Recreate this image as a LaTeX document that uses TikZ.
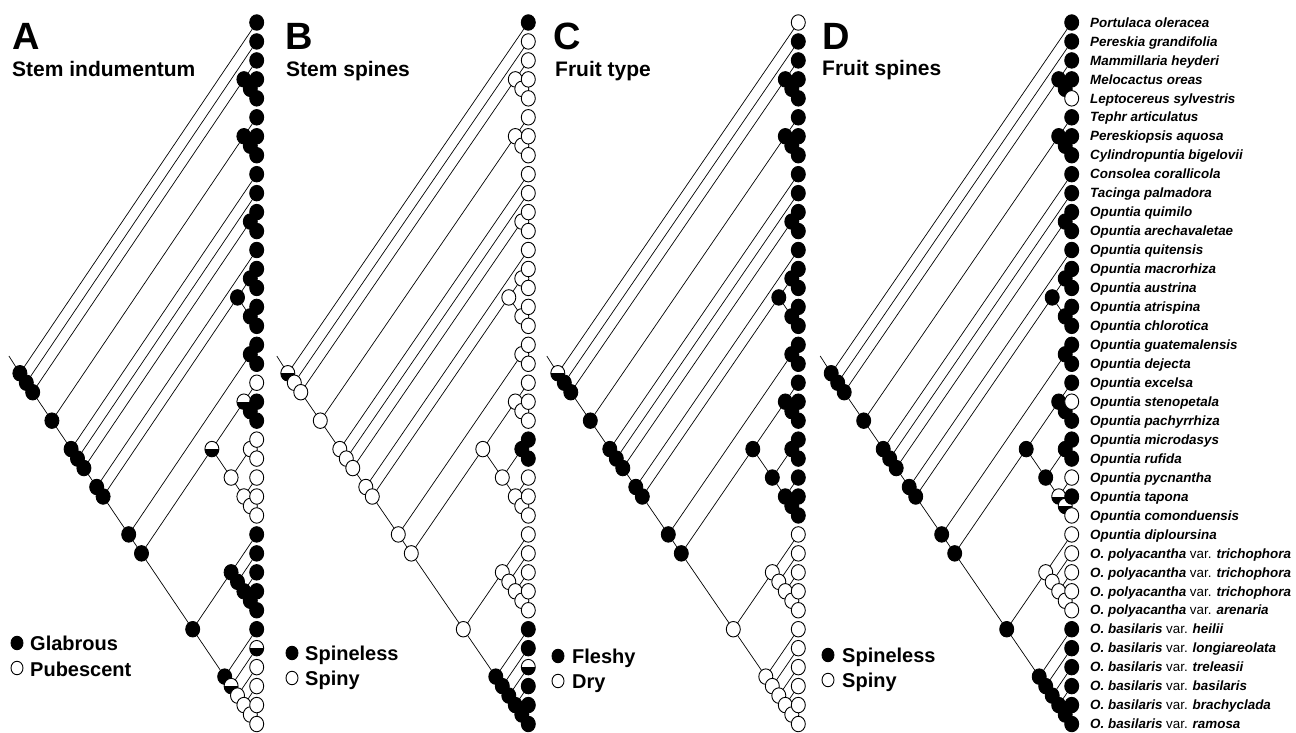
\documentclass[tikz,border=0pt]{standalone}
\usepackage{fontspec}
\setmainfont{Liberation Sans}
\usetikzlibrary{shapes.geometric}
\pgfdeclarelayer{bg}
\pgfsetlayers{bg,main}
\tikzset{
  cnode/.style={ellipse, draw=black, line width=0.9pt, minimum width=14pt, minimum height=15.5pt, inner sep=0pt},
  stf/.style={cnode, fill=black},
  sto/.style={cnode, fill=white},
  sth/.style={cnode, fill=white, path picture={\fill[black] (path picture bounding box.west) rectangle (path picture bounding box.south east);}},
  legf/.style={stf, minimum width=12pt, minimum height=13.5pt},
  lego/.style={sto, minimum width=12pt, minimum height=13.5pt},
  branch/.style={line width=0.7pt, black},
  ttl/.style={font=\fontsize{38}{40}\selectfont\bfseries, anchor=base west, inner sep=0pt},
  sub/.style={font=\fontsize{21}{24}\selectfont\bfseries, anchor=base west, inner sep=0pt},
  legt/.style={font=\fontsize{20}{22}\selectfont\bfseries, anchor=base west, inner sep=0pt},
  lab/.style={font=\fontsize{13.4}{15}\selectfont\bfseries\itshape, anchor=base west, inner sep=0pt},
}
\newcommand\splitlist{1/38/1, 2/38/2, 3/38/5, 3/5/3, 4/5/4, 6/38/8, 6/8/6, 7/8/7, 9/38/9, 10/38/10, 11/38/12, 11/12/11, 13/38/13, 14/38/17, 14/17/15, 14/15/14, 16/17/16, 18/38/19, 18/19/18, 20/38/27, 20/27/22, 20/22/20, 21/22/21, 23/27/24, 23/24/23, 25/27/25, 26/27/26, 28/38/32, 28/32/28, 29/32/29, 30/32/30, 31/32/31, 33/38/33, 34/38/34, 35/38/35, 36/38/36, 37/38/37}
\newcommand\drawpanel[5]{%
  \foreach \a/\b/\st in {#4} {
    \node[st\st] (#1\a-\b) at ({#2-#3*(\b-\a)/2},{22.5+((\a+\b)/2-1)*18.96}) {};
  }
  \foreach \i/\st in {#5} {
    \node[st\st] (#1\i-\i) at (#2,{22.5+(\i-1)*18.96}) {};
  }
  \coordinate (#1stem) at ({#2-#3*18.5-11},356);
  \begin{pgfonlayer}{bg}
    \foreach \a/\b/\m in \splitlist {
      \pgfmathtruncatemacro\n{\m+1}
      \draw[branch] (#1\a-\b.center) -- (#1\a-\m.center);
      \draw[branch] (#1\a-\b.center) -- (#1\n-\b.center);
    }
    \draw[branch] (#1stem) -- (#11-38.center);
  \end{pgfonlayer}
}
\begin{document}
\begin{tikzpicture}[x=1pt,y=-1pt]
\useasboundingbox (0,0) rectangle (1296,733);

% ---------- Panel A : Stem indumentum ----------
\drawpanel{A}{256.7}{12.8}%
{1/38/f, 2/38/f, 3/38/f, 3/5/f, 4/5/f, 6/38/f, 6/8/f, 7/8/f, 9/38/f, 10/38/f, 11/38/f, 11/12/f, 13/38/f, 14/38/f, 14/17/f, 14/15/f, 16/17/f, 18/38/f, 18/19/f, 20/38/f, 20/27/h, 20/22/h, 21/22/f, 23/27/o, 23/24/o, 25/27/o, 26/27/o, 28/38/f, 28/32/f, 29/32/f, 30/32/f, 31/32/f, 33/38/f, 34/38/h, 35/38/o, 36/38/o, 37/38/o}%
{1/f, 2/f, 3/f, 4/f, 5/f, 6/f, 7/f, 8/f, 9/f, 10/f, 11/f, 12/f, 13/f, 14/f, 15/f, 16/f, 17/f, 18/f, 19/f, 20/o, 21/f, 22/f, 23/o, 24/o, 25/o, 26/o, 27/o, 28/f, 29/f, 30/f, 31/f, 32/f, 33/f, 34/h, 35/o, 36/o, 37/o, 38/o}

% ---------- Panel B : Stem spines ----------
\drawpanel{B}{528.3}{13}%
{1/38/h, 2/38/o, 3/38/o, 3/5/o, 4/5/o, 6/38/o, 6/8/o, 7/8/o, 9/38/o, 10/38/o, 11/38/o, 11/12/o, 13/38/o, 14/38/o, 14/17/o, 14/15/o, 16/17/o, 18/38/o, 18/19/o, 20/38/o, 20/27/o, 20/22/o, 21/22/o, 23/27/o, 23/24/f, 25/27/o, 26/27/o, 28/38/o, 28/32/o, 29/32/o, 30/32/o, 31/32/o, 33/38/f, 34/38/f, 35/38/f, 36/38/f, 37/38/f}%
{1/f, 2/o, 3/o, 4/o, 5/o, 6/o, 7/o, 8/o, 9/o, 10/o, 11/o, 12/o, 13/o, 14/o, 15/o, 16/o, 17/o, 18/o, 19/o, 20/o, 21/o, 22/o, 23/f, 24/f, 25/o, 26/o, 27/o, 28/o, 29/o, 30/o, 31/o, 32/o, 33/f, 34/f, 35/h, 36/f, 37/f, 38/f}

% ---------- Panel C : Fruit type ----------
\drawpanel{C}{798.3}{13}%
{1/38/h, 2/38/f, 3/38/f, 3/5/f, 4/5/f, 6/38/f, 6/8/f, 7/8/f, 9/38/f, 10/38/f, 11/38/f, 11/12/f, 13/38/f, 14/38/f, 14/17/f, 14/15/f, 16/17/f, 18/38/f, 18/19/f, 20/38/f, 20/27/f, 20/22/f, 21/22/f, 23/27/f, 23/24/f, 25/27/f, 26/27/f, 28/38/o, 28/32/o, 29/32/o, 30/32/o, 31/32/o, 33/38/o, 34/38/o, 35/38/o, 36/38/o, 37/38/o}%
{1/o, 2/f, 3/f, 4/f, 5/f, 6/f, 7/f, 8/f, 9/f, 10/f, 11/f, 12/f, 13/f, 14/f, 15/f, 16/f, 17/f, 18/f, 19/f, 20/f, 21/f, 22/f, 23/f, 24/f, 25/f, 26/f, 27/f, 28/o, 29/o, 30/o, 31/o, 32/o, 33/o, 34/o, 35/o, 36/o, 37/o, 38/o}

% ---------- Panel D : Fruit spines ----------
\drawpanel{D}{1071.7}{13}%
{1/38/f, 2/38/f, 3/38/f, 3/5/f, 4/5/f, 6/38/f, 6/8/f, 7/8/f, 9/38/f, 10/38/f, 11/38/f, 11/12/f, 13/38/f, 14/38/f, 14/17/f, 14/15/f, 16/17/f, 18/38/f, 18/19/f, 20/38/f, 20/27/f, 20/22/f, 21/22/f, 23/27/f, 23/24/f, 25/27/h, 26/27/h, 28/38/f, 28/32/o, 29/32/o, 30/32/o, 31/32/o, 33/38/f, 34/38/f, 35/38/f, 36/38/f, 37/38/f}%
{1/f, 2/f, 3/f, 4/f, 5/o, 6/f, 7/f, 8/f, 9/f, 10/f, 11/f, 12/f, 13/f, 14/f, 15/f, 16/f, 17/f, 18/f, 19/f, 20/f, 21/o, 22/f, 23/f, 24/f, 25/o, 26/f, 27/o, 28/o, 29/o, 30/o, 31/o, 32/o, 33/f, 34/f, 35/f, 36/f, 37/f, 38/f}

% ---------- taxon labels ----------
\foreach \i/\t in {1/{Portulaca oleracea}, 2/{Pereskia grandifolia}, 3/{Mammillaria heyderi}, 4/{Melocactus oreas}, 5/{Leptocereus sylvestris}, 6/{Tephr articulatus}, 7/{Pereskiopsis aquosa}, 8/{Cylindropuntia bigelovii}, 9/{Consolea corallicola}, 10/{Tacinga palmadora}, 11/{Opuntia quimilo}, 12/{Opuntia arechavaletae}, 13/{Opuntia quitensis}, 14/{Opuntia macrorhiza}, 15/{Opuntia austrina}, 16/{Opuntia atrispina}, 17/{Opuntia chlorotica}, 18/{Opuntia guatemalensis}, 19/{Opuntia dejecta}, 20/{Opuntia excelsa}, 21/{Opuntia stenopetala}, 22/{Opuntia pachyrrhiza}, 23/{Opuntia microdasys}, 24/{Opuntia rufida}, 25/{Opuntia pycnantha}, 26/{Opuntia tapona}, 27/{Opuntia comonduensis}, 28/{Opuntia diploursina}, 29/{O. polyacantha \textup{\mdseries var.} trichophora}, 30/{O. polyacantha \textup{\mdseries var.} trichophora}, 31/{O. polyacantha \textup{\mdseries var.} trichophora}, 32/{O. polyacantha \textup{\mdseries var.} arenaria}, 33/{O. basilaris \textup{\mdseries var.} heilii}, 34/{O. basilaris \textup{\mdseries var.} longiareolata}, 35/{O. basilaris \textup{\mdseries var.} treleasii}, 36/{O. basilaris \textup{\mdseries var.} basilaris}, 37/{O. basilaris \textup{\mdseries var.} brachyclada}, 38/{O. basilaris \textup{\mdseries var.} ramosa}} {
  \node[lab] (lab\i) at (1090,{22.5+(\i-1)*18.96+4.7}) {\t};
}

% ---------- titles ----------
\node[ttl] (tA) at (12,50) {A};
\node[sub] (sA) at (12,77) {Stem indumentum};
\node[ttl] (tB) at (285,50) {B};
\node[sub] (sB) at (286,77) {Stem spines};
\node[ttl] (tC) at (553,50) {C};
\node[sub] (sC) at (555,77) {Fruit type};
\node[ttl] (tD) at (822,50) {D};
\node[sub] (sD) at (822,76) {Fruit spines};

% ---------- legends ----------
\node[legf] (lA1) at (17,643) {};
\node[legt] (lAt1) at (30,650) {Glabrous};
\node[lego] (lA2) at (17,668) {};
\node[legt] (lAt2) at (30,676) {Pubescent};

\node[legf] (lB1) at (292,653) {};
\node[legt] (lBt1) at (305,660) {Spineless};
\node[lego] (lB2) at (292,678) {};
\node[legt] (lBt2) at (305,685) {Spiny};

\node[legf] (lC1) at (558,656) {};
\node[legt] (lCt1) at (572,663) {Fleshy};
\node[lego] (lC2) at (558,681) {};
\node[legt] (lCt2) at (572,688) {Dry};

\node[legf] (lD1) at (828,655) {};
\node[legt] (lDt1) at (842,662) {Spineless};
\node[lego] (lD2) at (828,680) {};
\node[legt] (lDt2) at (842,687) {Spiny};
\end{tikzpicture}
\end{document}
